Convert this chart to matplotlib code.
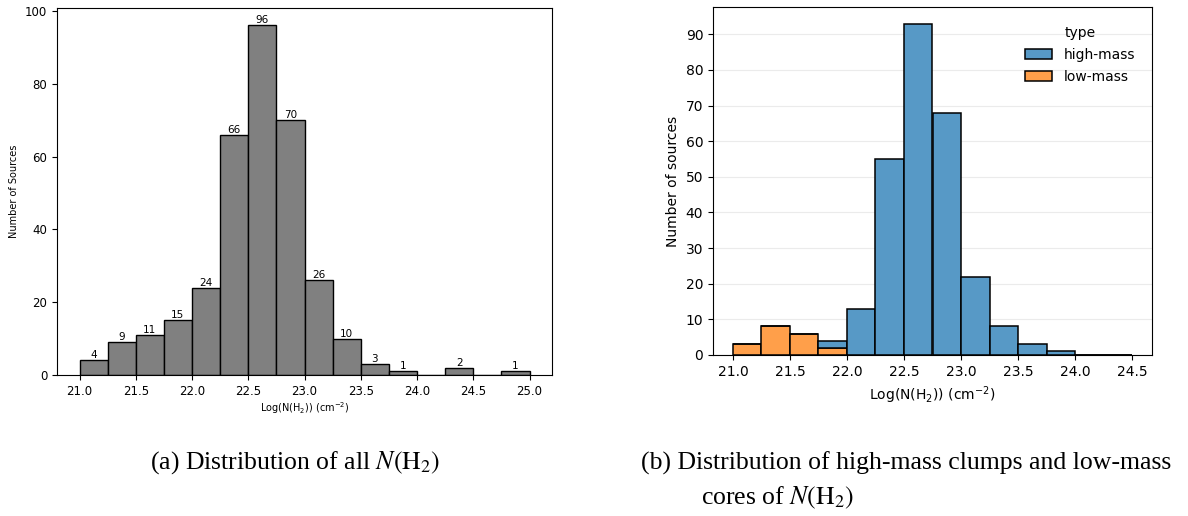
import numpy as np
import matplotlib
matplotlib.use("Agg")
import matplotlib.pyplot as plt
from matplotlib.patches import Patch

# ---------------- data ----------------
edges_all = np.arange(21.0, 25.0001, 0.25)
counts_all = [4, 9, 11, 15, 24, 66, 96, 70, 26, 10, 3, 1, 0, 2, 0, 1]

edges_type = np.arange(21.0, 24.5001, 0.25)
high_mass = [0, 0, 0, 2, 13, 55, 93, 68, 22, 8, 3, 1, 0, 0]
low_mass = [3, 8, 6, 2, 0, 0, 0, 0, 0, 0, 0, 0, 0, 0]

xticks_a = [21.0, 21.5, 22.0, 22.5, 23.0, 23.5, 24.0, 24.5, 25.0]
xticks_b = [21.0, 21.5, 22.0, 22.5, 23.0, 23.5, 24.0, 24.5]
yticks_a = [0, 20, 40, 60, 80, 100]
yticks_b = [0, 10, 20, 30, 40, 50, 60, 70, 80, 90]

caption_a = r"(a) Distribution of all $N(\mathrm{H}_2)$"
caption_b1 = "(b) Distribution of high-mass clumps and low-mass"
caption_b2 = r"cores of $N(\mathrm{H}_2)$"

W, H = 1188, 516
fig = plt.figure(figsize=(W / 100, H / 100), dpi=100)

def rect(x0, y0, x1, y1):
    return [x0 / W, 1 - y1 / H, (x1 - x0) / W, (y1 - y0) / H]

width = 0.25

# ---------------- panel (a) ----------------
ax1 = fig.add_axes(rect(57, 8, 552, 375))
bars = ax1.bar(edges_all[:-1], counts_all, width=width, align="edge",
               color="#808080", edgecolor="black", linewidth=1.0)
ax1.bar_label(bars, labels=[str(c) if c > 0 else "" for c in counts_all],
              fontsize=7.5, padding=0)
ax1.set_xlim(20.8, 25.2)
ax1.set_ylim(0, 100.8)
ax1.set_xticks(xticks_a)
ax1.set_yticks(yticks_a)
ax1.tick_params(labelsize=8.5)
ax1.set_xlabel(r"Log(N(H$_2$)) (cm$^{-2}$)", fontsize=7, labelpad=2)
ax1.set_ylabel("Number of Sources", fontsize=7, labelpad=4)

# ---------------- panel (b) ----------------
ax2 = fig.add_axes(rect(713, 7, 1152, 355))
c_high = "#5799c6"
c_low = "#ff9f4a"
ax2.bar(edges_type[:-1], low_mass, width=width, align="edge",
        color=c_low, edgecolor="black", linewidth=1.1, zorder=2)
ax2.bar(edges_type[:-1], high_mass, width=width, bottom=low_mass, align="edge",
        color=c_high, edgecolor="black", linewidth=1.1, zorder=2)
ax2.set_xlim(20.825, 24.675)
ax2.set_ylim(0, 97.65)
ax2.set_xticks(xticks_b)
ax2.set_yticks(yticks_b)
ax2.yaxis.grid(True, color="#ebebeb", linewidth=0.8, zorder=0)
ax2.set_axisbelow(True)
ax2.tick_params(labelsize=10)
ax2.set_xlabel(r"Log(N(H$_2$)) (cm$^{-2}$)", fontsize=10)
ax2.set_ylabel("Number of sources", fontsize=10)
handles = [Patch(facecolor=c_high, edgecolor="black", linewidth=1.1, label="high-mass"),
           Patch(facecolor=c_low, edgecolor="black", linewidth=1.1, label="low-mass")]
ax2.legend(handles=handles, title="type", loc="upper right", frameon=False,
           fontsize=10, title_fontsize=10, bbox_to_anchor=(0.99, 0.98),
           labelspacing=0.55)

# ---------------- captions ----------------
cap_kw = dict(fontsize=18.5, family="Liberation Serif", math_fontfamily="stix",
              va="center")
fig.text(295 / W, 1 - 463 / H, caption_a, ha="center", **cap_kw)
fig.text(906 / W, 1 - 463 / H, caption_b1, ha="center", **cap_kw)
fig.text(778 / W, 1 - 498 / H, caption_b2, ha="center", **cap_kw)

fig.savefig("out.png", dpi=100)
